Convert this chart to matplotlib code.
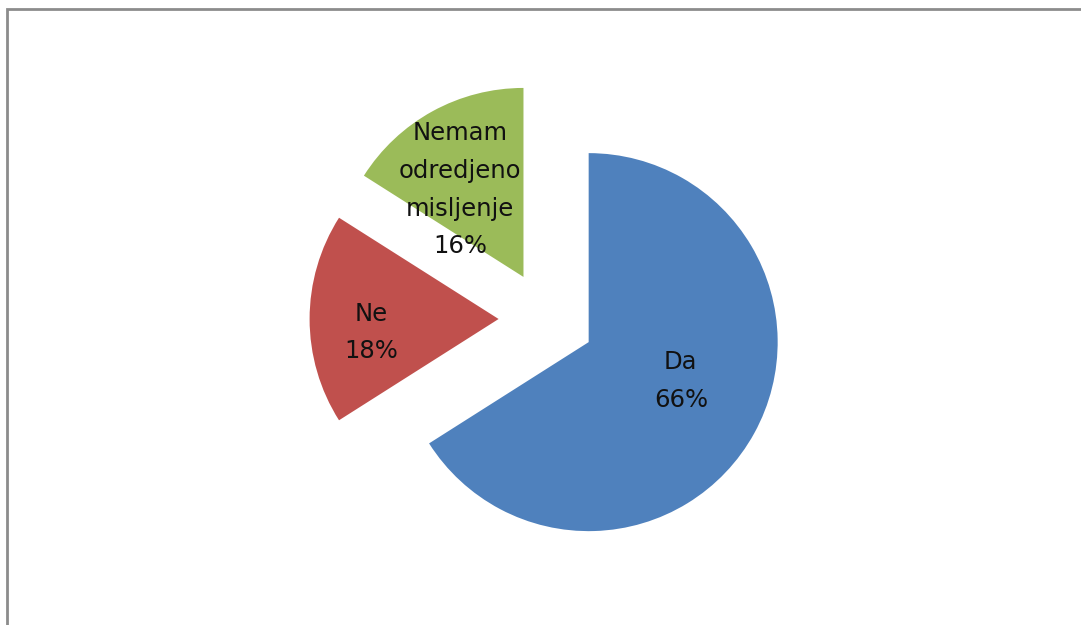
import matplotlib
matplotlib.use("Agg")
import matplotlib.pyplot as plt
from matplotlib.patches import Rectangle
import numpy as np

# data
categories = ["Da", "Ne", "Nemam\nodredjeno\nmisljenje"]
values = [66, 18, 16]
colors = ["#4F81BD", "#C0504D", "#9BBB59"]

W, H = 1081, 625
fig = plt.figure(figsize=(W / 100, H / 100), dpi=100)
ax = fig.add_axes([0, 0, 1, 1])

# pie drawn in pixel-like data units
radius = 189
center = (546.6, H - 319)
wedges, texts, autotexts = ax.pie(
    values, colors=colors, startangle=90, counterclock=False,
    radius=radius, center=center, explode=[48, 48, 48],
    autopct="%1.0f%%", pctdistance=0.56,
    wedgeprops=dict(linewidth=0),
    textprops=dict(fontsize=17.5, color="#111111", family="DejaVu Sans"),
)

# label placement like Excel's "best fit": distance (x radius), angle in deg
label_dist = [0.53, 0.68, 0.57]
label_ang = [-23, 186, 126]
for w, t, cat, d, a in zip(wedges, autotexts, categories, label_dist, label_ang):
    t.set_text(f"{cat}\n{t.get_text()}")
    t.set_linespacing(1.72)
    t.set_multialignment("center")
    cx, cy = w.center
    t.set_position((cx + d * radius * np.cos(np.radians(a)),
                    cy + d * radius * np.sin(np.radians(a))))

ax.set_xlim(0, W)
ax.set_ylim(0, H)
ax.set_aspect("equal")
ax.axis("off")

# chart frame (cut off at right and bottom)
fig.patches.append(Rectangle((7.5 / W, -0.2), 1.2, 1.2 - 8.5 / H,
                             transform=fig.transFigure, fill=False,
                             edgecolor="#8c8c8c", linewidth=2))

fig.savefig("out.png", dpi=100, facecolor="white")
